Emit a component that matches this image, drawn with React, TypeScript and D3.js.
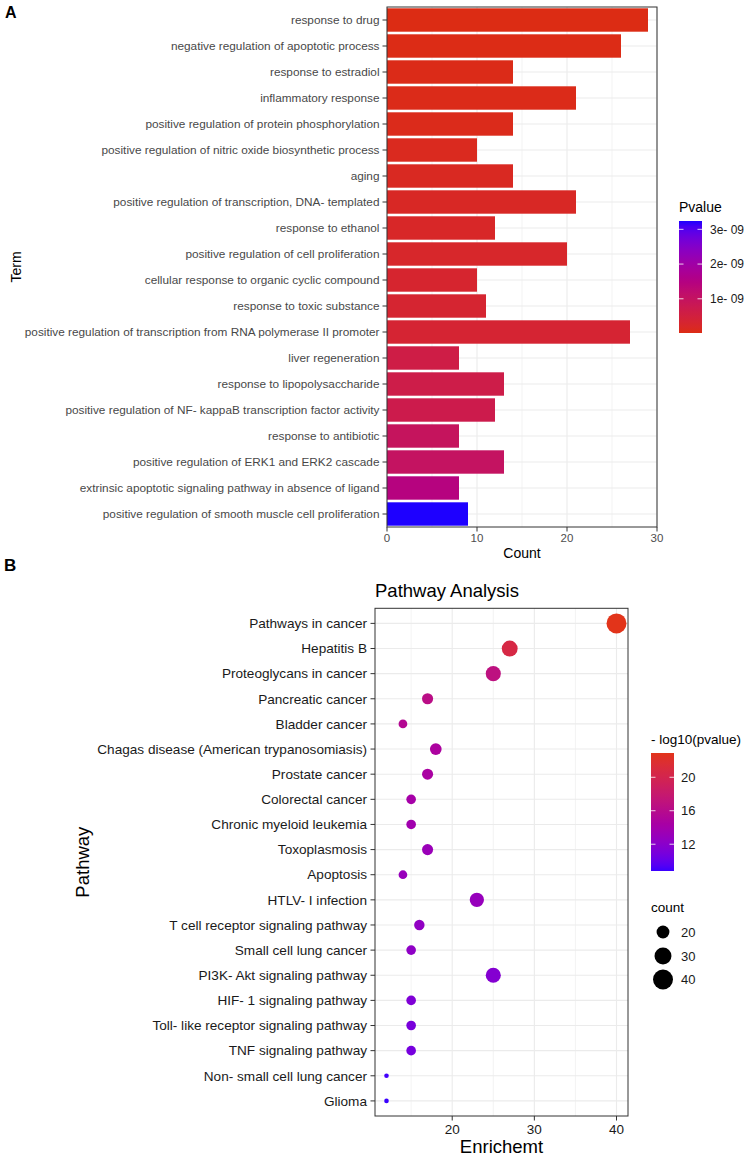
import React from "react";
import * as d3 from "d3";

// ---- panel A: GO terms ----
const terms = [
  "response to drug",
  "negative regulation of apoptotic process",
  "response to estradiol",
  "inflammatory response",
  "positive regulation of protein phosphorylation",
  "positive regulation of nitric oxide biosynthetic process",
  "aging",
  "positive regulation of transcription, DNA- templated",
  "response to ethanol",
  "positive regulation of cell proliferation",
  "cellular response to organic cyclic compound",
  "response to toxic substance",
  "positive regulation of transcription from RNA polymerase II promoter",
  "liver regeneration",
  "response to lipopolysaccharide",
  "positive regulation of NF- kappaB transcription factor activity",
  "response to antibiotic",
  "positive regulation of ERK1 and ERK2 cascade",
  "extrinsic apoptotic signaling pathway in absence of ligand",
  "positive regulation of smooth muscle cell proliferation",
];
const termCounts = [29, 26, 14, 21, 14, 10, 14, 21, 12, 20, 10, 11, 27, 8, 13, 12, 8, 13, 8, 9];
const termPvalues = [
  1.5e-11, 3e-11, 5e-11, 6e-11, 8e-11, 1.2e-10, 1.5e-10, 1.8e-10, 2.2e-10, 2.5e-10,
  3.0e-10, 3.3e-10, 3.5e-10, 6.2e-10, 6.5e-10, 7.0e-10, 9.5e-10, 1.0e-9, 1.45e-9, 3.24e-9,
];
const countTicks = [0, 10, 20, 30];
const pTicks = [1e-9, 2e-9, 3e-9];
const pTickLabels = ["1e- 09", "2e- 09", "3e- 09"];

// ---- panel B: KEGG pathways ----
const pathways = [
  "Pathways in cancer",
  "Hepatitis B",
  "Proteoglycans in cancer",
  "Pancreatic cancer",
  "Bladder cancer",
  "Chagas disease (American trypanosomiasis)",
  "Prostate cancer",
  "Colorectal cancer",
  "Chronic myeloid leukemia",
  "Toxoplasmosis",
  "Apoptosis",
  "HTLV- I infection",
  "T cell receptor signaling pathway",
  "Small cell lung cancer",
  "PI3K- Akt signaling pathway",
  "HIF- 1 signaling pathway",
  "Toll- like receptor signaling pathway",
  "TNF signaling pathway",
  "Non- small cell lung cancer",
  "Glioma",
];
const enrichment = [40, 27, 25, 17, 14, 18, 17, 15, 15, 17, 14, 23, 16, 15, 25, 15, 15, 15, 12, 12];
const pathwayCounts = [40, 27, 25, 17, 14, 18, 17, 15, 15, 17, 14, 23, 16, 15, 25, 15, 15, 15, 12, 12];
const logP = [22.9, 20.6, 16.8, 16.4, 15.6, 14.8, 14.6, 14.2, 13.8, 13.2, 13.0, 12.9, 12.5, 12.3, 11.6, 11.3, 11.0, 10.8, 9.0, 8.8];
const enrichTicks = [20, 30, 40];
const enrichMinor = [15, 25, 35];
const logPTicks = [12, 16, 20];
const sizeBreaks = [20, 30, 40];

const FONT = "'Liberation Sans', Arial, sans-serif";
const GRID = "#EBEBEB";
const BORDER = "#333333";

function ColorBar({ id, x, y, w, h, interp }: any) {
  const stops = d3.range(0, 1.0001, 0.05);
  return (
    <g>
      <defs>
        <linearGradient id={id} x1="0" y1="1" x2="0" y2="0">
          {stops.map((t) => (
            <stop key={t} offset={t} stopColor={interp(t)} />
          ))}
        </linearGradient>
      </defs>
      <rect x={x} y={y} width={w} height={h} fill={`url(#${id})`} />
    </g>
  );
}

function PanelA() {
  const x = d3.scaleLinear().domain([0, 30]).range([387, 657]);
  const y = d3.scaleBand().domain(terms).range([7, 527]).paddingInner(0.1).paddingOuter(0.05);
  const pExtent = d3.extent(termPvalues) as [number, number];
  const colorInterp = d3.interpolateLab("#DC2C14", "#1E00FF");
  const color = d3.scaleLinear<number>().domain(pExtent).range([0, 1]);
  const legY = d3.scaleLinear().domain(pExtent).range([333, 221]);

  return (
    <g fontFamily={FONT}>
      <text x={5} y={18} fontSize={16} fontWeight="bold" fill="#000">A</text>
      {/* grid */}
      {[5, 15, 25].map((v) => (
        <line key={"mn" + v} x1={x(v)} x2={x(v)} y1={7} y2={527} stroke={GRID} strokeWidth={0.6} />
      ))}
      {countTicks.map((v) => (
        <line key={"mj" + v} x1={x(v)} x2={x(v)} y1={7} y2={527} stroke={GRID} strokeWidth={1.1} />
      ))}
      {terms.map((t) => (
        <line key={"h" + t} x1={387} x2={657} y1={y(t)! + y.bandwidth() / 2} y2={y(t)! + y.bandwidth() / 2} stroke={GRID} strokeWidth={1.1} />
      ))}
      {/* bars */}
      {terms.map((t, i) => (
        <rect
          key={t}
          x={x(0)}
          y={y(t)}
          width={x(termCounts[i]) - x(0)}
          height={y.bandwidth()}
          fill={colorInterp(color(termPvalues[i]))}
        />
      ))}
      <rect x={387} y={7} width={270} height={520} fill="none" stroke={BORDER} strokeWidth={1} />
      {/* y axis */}
      {terms.map((t) => {
        const cy = y(t)! + y.bandwidth() / 2;
        return (
          <g key={"yl" + t}>
            <line x1={382.5} x2={387} y1={cy} y2={cy} stroke={BORDER} />
            <text x={379.5} y={cy} dy="0.35em" textAnchor="end" fontSize={11.8} fill="#484848">{t}</text>
          </g>
        );
      })}
      {/* x axis */}
      {countTicks.map((v) => (
        <g key={"xt" + v}>
          <line x1={x(v)} x2={x(v)} y1={527} y2={531.5} stroke={BORDER} />
          <text x={x(v)} y={542} textAnchor="middle" fontSize={11.5} fill="#4D4D4D">{v}</text>
        </g>
      ))}
      <text x={(387 + 657) / 2} y={558} textAnchor="middle" fontSize={14} fill="#000">Count</text>
      <text transform={`translate(21,${(7 + 527) / 2}) rotate(-90)`} textAnchor="middle" fontSize={14} fill="#000">Term</text>
      {/* legend */}
      <text x={679} y={212} fontSize={14} fill="#000">Pvalue</text>
      <ColorBar id="gradA" x={679} y={221} w={23} h={112} interp={colorInterp} />
      {pTicks.map((v, i) => (
        <g key={"pt" + v}>
          <line x1={679} x2={683.5} y1={legY(v)} y2={legY(v)} stroke="#fff" strokeOpacity={0.8} />
          <line x1={697.5} x2={702} y1={legY(v)} y2={legY(v)} stroke="#fff" strokeOpacity={0.8} />
          <text x={710} y={legY(v)} dy="0.35em" fontSize={12} fill="#1a1a1a">{pTickLabels[i]}</text>
        </g>
      ))}
    </g>
  );
}

function PanelB() {
  const ext = d3.extent(enrichment) as [number, number];
  const pad = (ext[1] - ext[0]) * 0.05;
  const x = d3.scaleLinear().domain([ext[0] - pad, ext[1] + pad]).range([375, 628]);
  const y = d3.scalePoint().domain(pathways).range([608.3, 1116]).padding(0.6);
  const lpExt = d3.extent(logP) as [number, number];
  const colorInterp = d3.interpolateLab("#3A00FF", "#E2341A");
  const color = d3.scaleLinear<number>().domain(lpExt).range([0, 1]);
  const cExt = d3.extent(pathwayCounts) as [number, number];
  const sizeT = d3.scaleLinear().domain(cExt).range([0, 1]);
  const rad = d3.scaleLinear().domain([0, 1]).range([2.3, 10]);
  const r = (v: number) => rad(Math.sqrt(Math.max(0, sizeT(v))));
  const legY = d3.scaleLinear().domain(lpExt).range([871, 753]);
  const legSizeY = [932, 956, 979.5];

  return (
    <g fontFamily={FONT}>
      <text x={4} y={571} fontSize={17} fontWeight="bold" fill="#000">B</text>
      <text x={375} y={597} fontSize={18.5} fill="#000">Pathway Analysis</text>
      {enrichMinor.map((v) => (
        <line key={"mn" + v} x1={x(v)} x2={x(v)} y1={608.3} y2={1116} stroke={GRID} strokeWidth={0.6} />
      ))}
      {enrichTicks.map((v) => (
        <line key={"mj" + v} x1={x(v)} x2={x(v)} y1={608.3} y2={1116} stroke={GRID} strokeWidth={1.1} />
      ))}
      {pathways.map((p) => (
        <line key={"h" + p} x1={375} x2={628} y1={y(p)} y2={y(p)} stroke={GRID} strokeWidth={1.1} />
      ))}
      {pathways.map((p, i) => (
        <circle key={"c" + p} cx={x(enrichment[i])} cy={y(p)} r={r(pathwayCounts[i])} fill={colorInterp(color(logP[i]))} />
      ))}
      <rect x={375} y={608.3} width={253} height={507.7} fill="none" stroke={BORDER} strokeWidth={1} />
      {pathways.map((p) => (
        <g key={"yl" + p}>
          <line x1={370.5} x2={375} y1={y(p)} y2={y(p)} stroke={BORDER} />
          <text x={367} y={y(p)} dy="0.35em" textAnchor="end" fontSize={13.6} fill="#1a1a1a">{p}</text>
        </g>
      ))}
      {enrichTicks.map((v) => (
        <g key={"xt" + v}>
          <line x1={x(v)} x2={x(v)} y1={1116} y2={1120.5} stroke={BORDER} />
          <text x={x(v)} y={1133.5} textAnchor="middle" fontSize={13.5} fill="#1a1a1a">{v}</text>
        </g>
      ))}
      <text x={(375 + 628) / 2} y={1153} textAnchor="middle" fontSize={18.5} fill="#000">Enrichemt</text>
      <text transform={`translate(89,${(608.3 + 1116) / 2}) rotate(-90)`} textAnchor="middle" fontSize={18.5} fill="#000">Pathway</text>
      {/* colour legend */}
      <text x={651} y={744} fontSize={13.5} fill="#000">- log10(pvalue)</text>
      <ColorBar id="gradB" x={651} y={753} w={23} h={118} interp={colorInterp} />
      {logPTicks.map((v) => (
        <g key={"lt" + v}>
          <line x1={651} x2={655.5} y1={legY(v)} y2={legY(v)} stroke="#fff" strokeOpacity={0.8} />
          <line x1={669.5} x2={674} y1={legY(v)} y2={legY(v)} stroke="#fff" strokeOpacity={0.8} />
          <text x={681} y={legY(v)} dy="0.35em" fontSize={13} fill="#1a1a1a">{v}</text>
        </g>
      ))}
      {/* size legend */}
      <text x={651} y={912} fontSize={13.5} fill="#000">count</text>
      {sizeBreaks.map((v, i) => (
        <g key={"sb" + v}>
          <circle cx={663} cy={legSizeY[i]} r={r(v)} fill="#000" />
          <text x={681} y={legSizeY[i]} dy="0.35em" fontSize={13} fill="#1a1a1a">{v}</text>
        </g>
      ))}
    </g>
  );
}

export default function App() {
  return (
    <svg
      width={748}
      height={1158}
      style={{ position: "absolute", left: 0, top: 0, background: "#fff" }}
    >
      <rect width={748} height={1158} fill="#fff" />
      <PanelA />
      <PanelB />
    </svg>
  );
}
